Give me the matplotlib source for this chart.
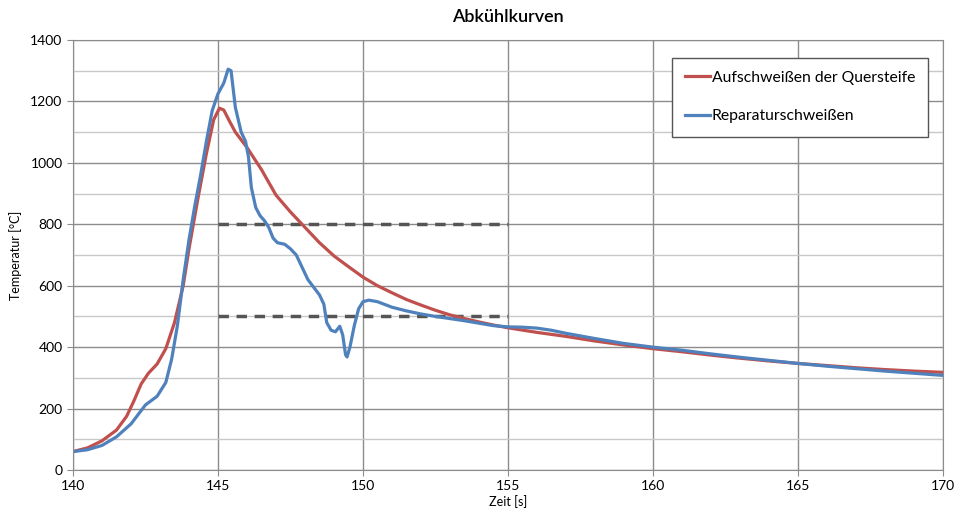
import matplotlib.pyplot as plt
import numpy as np
from matplotlib.ticker import MultipleLocator

plt.rcParams["font.family"] = ["Lato", "DejaVu Sans"]

# Aufschweißen der Quersteife (red)
t_quer = [140.0, 140.5, 141.0, 141.5, 141.85, 142.1, 142.35, 142.6, 142.9, 143.2,
          143.5, 143.8, 144.0, 144.3, 144.6, 144.85, 145.05, 145.2, 145.4, 145.6,
          145.8, 146.0, 146.5, 147.0, 147.5, 148.0, 148.5, 149.0, 149.5, 150.0,
          150.5, 151.0, 151.5, 152.0, 152.5, 153.0, 153.5, 154.0, 154.5, 155.0,
          156.0, 157.0, 158.0, 159.0, 160.0, 161.0, 162.0, 163.0, 164.0, 165.0,
          166.0, 167.0, 168.0, 169.0, 170.0]
T_quer = [60, 72, 95, 130, 175, 225, 280, 315, 345, 395,
          480, 600, 720, 880, 1030, 1140, 1178, 1172, 1135, 1100,
          1075, 1050, 978, 895, 840, 790, 740, 697, 662, 628,
          600, 577, 555, 537, 520, 505, 493, 482, 472, 463,
          448, 435, 420, 407, 395, 385, 374, 364, 355, 347,
          340, 333, 327, 322, 318]

# Reparaturschweißen (blue)
t_rep = [140.0, 140.5, 141.0, 141.5, 142.0, 142.5, 142.9, 143.2, 143.4, 143.6,
         143.8, 144.0, 144.2, 144.4, 144.6, 144.8, 145.0, 145.2, 145.35, 145.45,
         145.6, 145.8, 145.95, 146.05, 146.15, 146.3, 146.45, 146.6, 146.75, 146.9,
         147.05, 147.3, 147.5, 147.7, 147.9, 148.1, 148.3, 148.5, 148.65, 148.75,
         148.9, 149.05, 149.2, 149.3, 149.4, 149.45, 149.55, 149.7, 149.85, 150.0,
         150.2, 150.5, 151.0, 151.5, 152.0, 152.5, 153.0, 153.5, 154.0, 154.5,
         155.0, 155.5, 156.0, 156.5, 157.0, 158.0, 159.0, 160.0, 161.0, 162.0,
         163.0, 164.0, 165.0, 166.0, 167.0, 168.0, 169.0, 170.0]
T_rep = [60, 66, 80, 108, 150, 212, 240, 285, 360, 470,
         620, 750, 860, 960, 1070, 1170, 1225, 1260, 1305, 1300,
         1180, 1100, 1070, 1020, 920, 855, 828, 812, 790, 755,
         740, 735, 720, 700, 660, 620, 595, 570, 540, 480,
         455, 450, 468, 440, 375, 368, 400, 470, 525, 548,
         553, 548, 530, 518, 508, 500, 493, 486, 478, 470,
         466, 465, 462, 455, 445, 428, 412, 400, 390, 378,
         367, 357, 347, 338, 330, 322, 315, 308]

# Grenzlinien 800 / 500 °C
t_grenz = [145, 155]
T_grenz = [800, 500]

fig = plt.figure(figsize=(9.58, 5.19), dpi=100)
ax = fig.add_axes([0.0762, 0.0944, 0.9081, 0.8285])

ax.yaxis.set_major_locator(MultipleLocator(200))
ax.yaxis.set_minor_locator(MultipleLocator(100))
ax.xaxis.set_major_locator(MultipleLocator(5))
ax.grid(True, which="major", color="#8c8c8c", lw=1.0)
ax.grid(True, which="minor", axis="y", color="#c8c8c8", lw=1.0)
ax.set_axisbelow(True)

for T in T_grenz:
    ax.plot(t_grenz, [T, T], color="#555555", lw=2.5, ls=(0, (3, 2.2)))

ax.plot(t_quer, T_quer, color="#C0504D", lw=2.3, solid_joinstyle="round",
        label="Aufschweißen der Quersteife")
ax.plot(t_rep, T_rep, color="#4F81BD", lw=2.3, solid_joinstyle="round",
        label="Reparaturschweißen")

ax.set_xlim(140, 170)
ax.set_ylim(0, 1400)
ax.set_title("Abkühlkurven", fontsize=13, fontweight="semibold", pad=13)
ax.set_xlabel("Zeit [s]", fontsize=9, labelpad=2)
ax.set_ylabel("Temperatur [°C]", fontsize=9, labelpad=6)
ax.tick_params(which="both", labelsize=10, color="#8c8c8c", length=4)
ax.tick_params(which="minor", length=0)
for s in ax.spines.values():
    s.set_color("#8c8c8c")

leg = ax.legend(loc="upper right", bbox_to_anchor=(0.9885, 0.97), fontsize=11.3,
                fancybox=False, framealpha=1, edgecolor="#555555",
                handlelength=1.6, handletextpad=0.1, labelspacing=1.55,
                borderpad=0.85, borderaxespad=0.3)
leg.get_frame().set_linewidth(1.0)

plt.savefig("out.png", dpi=100)
